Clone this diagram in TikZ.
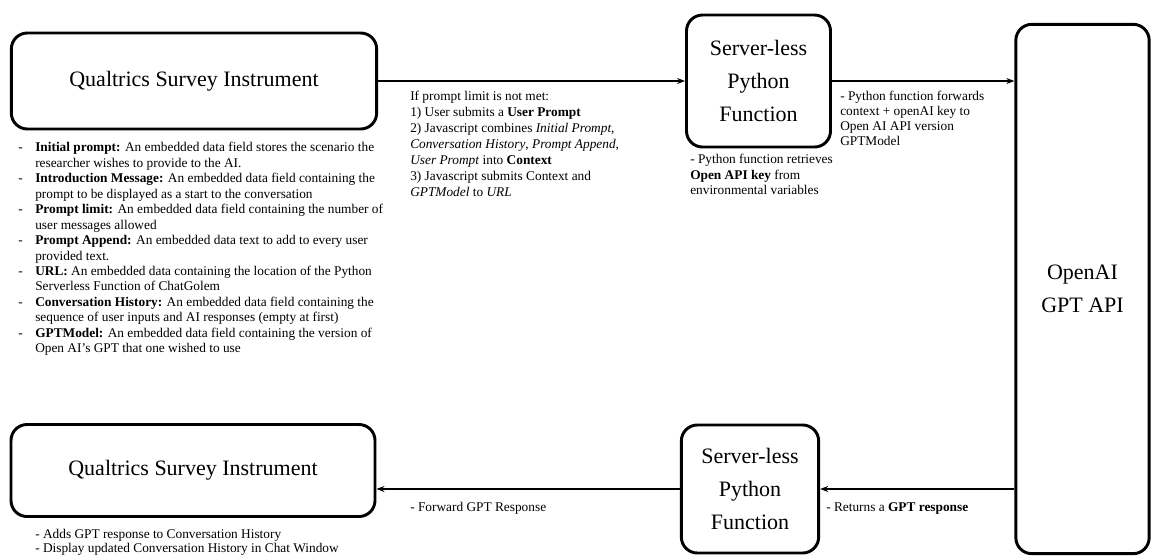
\documentclass[tikz,border=0pt]{standalone}
\usepackage{fontspec}
\setmainfont{Liberation Serif}
\usetikzlibrary{arrows.meta}

\newcommand{\fielditem}[2]{\par\hangindent=18.75pt\hangafter=1\noindent\makebox[18.75pt][l]{\hspace{6pt}-}\textbf{#1} #2}

\begin{document}
\begin{tikzpicture}[x=0.75pt,y=-0.75pt]
\useasboundingbox (0,0) rectangle (1153,558);
	\begin{scope}[every node/.style = {draw, line width=2.2pt, rounded corners=12pt,
		align=center, font=\fontsize{16.5}{25}\selectfont}]
		\node[minimum width=274pt, minimum height=72pt] (Q1) at (194,81) {Qualtrics Survey Instrument};
		\node[minimum width=108pt, minimum height=99pt] (S1) at (758.5,81) {Server-less\\Python\\Function};
		\node[minimum width=100pt, minimum height=397pt] (G) at (1082.5,289) {OpenAI\\GPT API};
		\node[minimum width=273pt, minimum height=69pt] (Q2) at (193,470.5) {Qualtrics Survey Instrument};
		\node[minimum width=103pt, minimum height=96pt] (S2) at (750,489) {Server-less\\Python\\Function};
	\end{scope}
	\begin{scope}[>={Stealth[length=6pt,width=4.5pt]},
			every edge/.style={draw=black, line width=0.8pt}]
		\path [->] (Q1) edge  (S1);
		\path [->] (S1) edge  (G.west |- S1.east);
		\path [->] (G.west |- S2.east) edge  (S2);
		\path [->] (S2) edge  (Q2.east |- S2.west);
	\end{scope}
	\begin{scope}[every node/.style = {anchor=north west, inner sep=0pt, align=left,
		font=\fontsize{10}{11.6}\selectfont}]
		\node[font=\fontsize{10}{12}\selectfont] (limit) at (410,91) {If prompt limit is not met:\\
			1) User submits a \textbf{User Prompt}\\
			2) Javascript combines \textit{Initial Prompt},\\
			\textit{Conversation History}, \textit{Prompt Append},\\
			\textit{User Prompt} into \textbf{Context}\\
			3) Javascript submits Context and\\
			\textit{GPTModel} to \textit{URL}};
		\node[font=\fontsize{10}{11.3}\selectfont] (fwd) at (840,91) {- Python function forwards\\context + openAI key to\\Open AI API version\\GPTModel};
		\node (key) at (690,154) {- Python function retrieves\\\textbf{Open API key} from\\environmental variables};
		\node (back) at (410,502) {- Forward GPT Response};
		\node (ret) at (826,502) {- Returns a \textbf{GPT response}};
		\node[font=\fontsize{10}{10.8}\selectfont] (upd) at (35,529) {- Adds GPT response to Conversation History\\- Display updated Conversation History in Chat Window};
		\node[text width=292pt, align=none] (fields) at (10,136) {\raggedright
			\fielditem{Initial prompt:}{An embedded data field stores the scenario the\newline researcher wishes to provide to the AI.}
			\fielditem{Introduction Message:}{An embedded data field containing the\newline prompt to be displayed as a start to the conversation}
			\fielditem{Prompt limit:}{An embedded data field containing the number of\newline user messages allowed}
			\fielditem{Prompt Append:}{An embedded data text to add to every user\newline provided text.}
			\fielditem{URL:}{An embedded data containing the location of the Python\newline Serverless Function of ChatGolem}
			\fielditem{Conversation History:}{An embedded data field containing the\newline sequence of user inputs and AI responses (empty at first)}
			\fielditem{GPTModel:}{An embedded data field containing the version of\newline Open AI’s GPT that one wished to use}\par};
	\end{scope}
\end{tikzpicture}
\end{document}
